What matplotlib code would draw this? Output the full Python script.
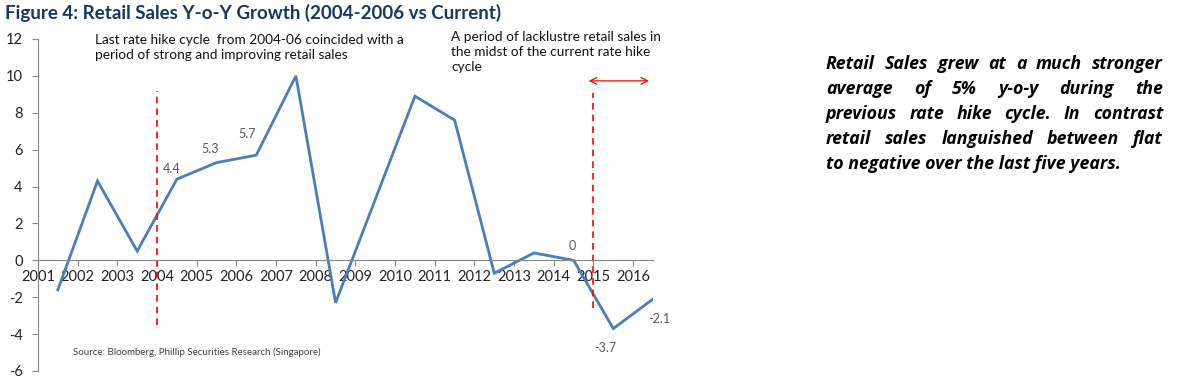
"""Figure 4: Retail Sales Y-o-Y growth, 2004-06 hike cycle vs current."""

import matplotlib
matplotlib.use("Agg")
import matplotlib.pyplot as plt

# DATA
years = [2001.5, 2002.5, 2003.5, 2004.5, 2005.5, 2006.5, 2007.5, 2008.5,
         2009.5, 2010.5, 2011.5, 2012.5, 2013.5, 2014.5, 2015.5, 2016.5]
growth = [-1.6, 4.3, 0.5, 4.4, 5.3, 5.7, 10.0, -2.3,
          3.3, 8.9, 7.6, -0.7, 0.4, 0.0, -3.7, -2.1]
year_ticks = list(range(2001, 2017))
y_ticks = list(range(-6, 13, 2))
labelled_years = [2004.5, 2005.5, 2006.5, 2014.5, 2015.5, 2016.5]
label_text = ["4.4", "5.3", "5.7", "0", "-3.7", "-2.1"]
label_offsets = [(-3.5, 7), (-5, 9.5), (-6.5, 15), (-1, 10), (-6, -14), (4.5, -14)]  # pts
hike_lines = [2004.0, 2015.0]
hike_spans = [(9.18, -3.5), (9.07, -2.6)]

TITLE = "Figure 4: Retail Sales Y-o-Y Growth (2004-2006 vs Current)"
NOTE_1 = ("Last rate hike cycle  from 2004-06 coincided with a\n"
          "period of strong and improving retail sales")
NOTE_2 = ("A period of lacklustre retail sales in\n"
          "the midst of the current rate hike\ncycle")
SOURCE = "Source: Bloomberg, Phillip Securities Research (Singapore)"
SIDE_LINES = [
    "Retail Sales grew at a much stronger",
    "average of 5% y-o-y during the",
    "previous rate hike cycle. In contrast",
    "retail sales languished between flat",
    "to negative over the last five years.",
]

FONT = ["Lato", "DejaVu Sans"]
plt.rcParams["font.family"] = FONT
plt.rcParams["axes.unicode_minus"] = False

W, H = 1180, 392
fig = plt.figure(figsize=(W / 100, H / 100), dpi=100)
ax = fig.add_axes([38 / W, 1 - 371 / H, (653 - 38) / W, (371 - 39) / H])

ax.plot(years, growth, color="#4A7EBB", linewidth=2.0, solid_joinstyle="miter")

ax.set_xlim(2001, 2016.5)
ax.set_ylim(-6, 12)
ax.set_yticks(y_ticks)
ax.set_xticks(year_ticks)
ax.tick_params(axis="y", direction="out", length=4, width=0.8, color="#868686",
               labelsize=10.5, pad=7, labelcolor="#222222")
ax.tick_params(axis="x", direction="out", length=4, width=0.8, color="#868686",
               labelsize=10.5, pad=3, labelcolor="#222222")
for s in ("top", "right"):
    ax.spines[s].set_visible(False)
ax.spines["bottom"].set_position(("data", 0))
ax.spines["bottom"].set_color("#868686")
ax.spines["left"].set_color("#868686")

for yr, txt, off in zip(labelled_years, label_text, label_offsets):
    val = growth[years.index(yr)]
    ax.annotate(txt, xy=(yr, val), xytext=off, textcoords="offset points",
                ha="center", va="center", fontsize=9, color="#595959")

for x, (top, bot) in zip(hike_lines, hike_spans):
    ax.plot([x, x], [bot, top], color="#FF0000", linestyle=(0, (4, 3)),
            linewidth=1.2)

ax.annotate("", xy=(2014.81, 9.73), xytext=(2016.47, 9.73),
            arrowprops=dict(arrowstyle="<->", color="#FF0000", lw=0.9,
                            mutation_scale=12))

# text blocks, placed in figure pixels
fig.text(5 / W, 1 - 4 / H, TITLE, ha="left", va="top", fontsize=13.5,
         fontweight="bold", color="#17375E")
fig.text(95 / W, 1 - 34 / H, NOTE_1, ha="left", va="top", fontsize=9.8,
         color="#111111", linespacing=1.3)
fig.text(451 / W, 1 - 31 / H, NOTE_2, ha="left", va="top", fontsize=9.8,
         color="#111111", linespacing=1.3)
fig.text(73 / W, 1 - 352 / H, SOURCE, ha="left", va="center", fontsize=7,
         color="#404040")

# justified bold-italic paragraph on the right
side_font = dict(family=["Open Sans", "DejaVu Sans"], fontsize=12.8,
                 fontweight="bold", style="italic", color="black")
renderer = fig.canvas.get_renderer()
left_px, right_px = 826, 1163
line_y = [64, 89, 114, 139, 164]
for i, (line, y) in enumerate(zip(SIDE_LINES, line_y)):
    words = line.split()
    yf = 1 - y / H
    if i == len(SIDE_LINES) - 1:
        fig.text(left_px / W, yf, line, ha="left", va="center", **side_font)
        continue
    objs = [fig.text(0, yf, w, ha="left", va="center", **side_font)
            for w in words]
    widths = [o.get_window_extent(renderer).width for o in objs]
    gap = (right_px - left_px - sum(widths)) / (len(words) - 1)
    x = left_px
    for o, w in zip(objs, widths):
        o.set_x(x / W)
        x += w + gap

fig.savefig("out.png", dpi=100)
